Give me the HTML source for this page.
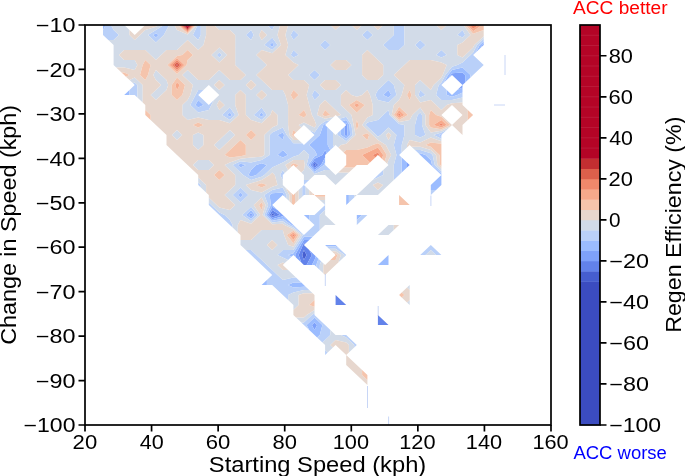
<!DOCTYPE html>
<html><head><meta charset="utf-8"><style>
html,body{margin:0;padding:0;background:#fff;width:685px;height:476px;overflow:hidden}
svg{display:block;font-family:"Liberation Sans",sans-serif;will-change:transform}
</style></head><body>
<svg width="685" height="476" viewBox="0 0 685 476">
<rect width="685" height="476" fill="#fff"/>
<defs><clipPath id="ax"><rect x="85" y="25" width="466" height="400"/></clipPath></defs>
<g clip-path="url(#ax)" fill-rule="evenodd"><path fill="#465ecf" d="M314.5 163.8L315.8 165.0L314.5 166.0L313.6 165.0ZM272.2 213.3L274.8 215.0L272.2 215.8L271.3 215.0ZM303.9 250.0L306.6 255.0L303.9 260.0L302.2 255.0Z"/><path fill="#6282ea" d="M314.5 161.2L318.5 165.0L314.5 168.0L311.9 165.0ZM313.6 165.0L314.5 166.0L315.8 165.0L314.5 163.8ZM272.2 210.0L280.1 215.0L272.2 217.5L269.6 215.0ZM271.3 215.0L272.2 215.8L274.8 215.0L272.2 213.3ZM303.9 243.3L305.7 243.3L303.9 245.0L309.2 250.0L311.9 255.0L306.6 265.0L303.9 265.0L301.3 262.5L298.6 255.0L302.9 245.0ZM302.2 255.0L303.9 260.0L306.6 255.0L303.9 250.0ZM335.6 295.0L346.2 305.0L335.6 305.0ZM377.9 315.0L388.5 325.0L377.9 325.0Z"/><path fill="#7ea1fa" d="M483.7 43.8L483.7 45.0L481.0 47.5L482.4 45.0ZM452.0 73.3L462.5 72.5L465.2 75.0L465.2 82.5L462.5 85.0L452.0 75.0L449.3 77.5L450.6 75.0ZM462.5 85.0L462.5 87.5L457.3 90.0ZM346.2 123.3L347.3 125.0L347.5 135.0L346.2 136.2L344.5 135.0L344.5 126.7L346.2 125.0L344.9 123.8ZM325.1 150.0L326.8 153.3L325.1 155.0L325.1 157.5L321.1 165.0L314.5 170.0L310.1 165.0L314.5 158.8L322.4 155.0ZM311.9 165.0L314.5 168.0L318.5 165.0L314.5 161.2ZM407.0 162.5L409.7 165.0L407.0 167.5L407.0 165.0ZM251.1 213.3L252.4 215.0L251.1 216.2L249.3 215.0ZM272.2 206.7L277.5 210.0L282.8 215.0L288.1 220.0L282.8 216.2L272.2 219.2L267.8 215.0ZM269.6 215.0L272.2 217.5L280.1 215.0L272.2 210.0ZM303.9 240.0L309.2 240.0L305.7 243.3L303.9 243.3L302.9 245.0L298.6 255.0L301.3 262.5L296.0 257.5L295.1 255.0L300.8 245.0ZM309.2 250.0L314.5 255.0L315.8 256.2L314.5 260.0L311.9 265.0L306.6 265.0L311.9 255.0ZM314.5 322.5L317.1 325.0L314.5 330.0L311.9 325.0Z"/><path fill="#9bbcff" d="M103.0 30.0L103.0 25.0L105.7 25.0ZM155.9 33.3L158.5 35.0L155.9 37.5L153.2 35.0ZM272.2 42.5L274.0 45.0L272.2 46.7L269.6 45.0ZM483.7 41.2L483.7 43.8L482.4 45.0L481.0 47.5L475.8 52.5L479.7 45.0ZM452.0 70.0L462.5 67.5L470.5 75.0L470.5 77.5L465.2 82.5L465.2 75.0L462.5 72.5L452.0 73.3L450.6 75.0L449.3 77.5L444.0 82.5L448.0 75.0ZM129.5 95.0L124.2 95.0L129.5 90.0ZM388.5 90.0L391.2 95.0L388.5 97.5L383.2 95.0ZM446.7 90.0L452.0 95.0L457.3 90.0L462.5 87.5L462.5 92.5L457.3 95.0L452.0 96.7L446.7 95.0ZM198.2 100.0L203.5 105.0L198.2 107.5L195.5 105.0ZM229.9 112.5L231.7 115.0L229.9 116.7L227.3 115.0ZM261.6 112.5L263.4 115.0L261.6 116.7L259.0 115.0ZM325.1 123.8L326.8 123.3L325.1 125.0L327.7 127.5L327.7 135.0L327.7 145.0L330.4 150.0L326.8 153.3L325.1 150.0L322.4 155.0L314.5 158.8L310.1 165.0L314.5 170.0L321.1 165.0L325.1 157.5L325.1 162.5L323.8 165.0L314.5 172.0L308.3 165.0L314.5 156.2L317.1 155.0L314.5 150.0L309.2 145.0L314.5 140.0L319.8 135.0L323.3 125.0ZM346.2 120.0L349.4 125.0L350.2 135.0L346.2 138.8L340.9 135.0L340.9 130.0L344.5 126.7L344.5 135.0L346.2 136.2L347.5 135.0L347.3 125.0L346.2 123.3L344.9 123.8L342.3 121.2ZM282.8 132.5L284.1 135.0L282.8 140.0L277.5 135.0ZM441.4 134.2L443.2 133.3L441.4 135.0L441.4 136.2L438.7 135.0ZM282.8 150.0L288.1 155.0L282.8 157.5L277.5 155.0ZM420.2 153.3L425.5 155.0L430.8 160.0L432.1 165.0L441.4 173.8L441.4 175.0L430.8 165.0L420.2 155.0L418.5 153.3ZM240.5 163.8L245.8 165.0L240.5 167.5L237.8 165.0ZM261.6 163.3L266.9 165.0L261.6 170.0L256.3 175.0L251.1 176.7L248.4 175.0L251.1 170.0L256.3 165.0ZM401.7 157.5L407.0 162.5L407.0 165.0L407.0 167.5L401.7 172.5L401.7 165.0ZM441.4 175.0L441.4 185.0L436.1 190.0L430.8 190.0L430.8 185.0ZM240.5 192.5L243.1 195.0L240.5 197.5L237.8 195.0ZM272.2 193.3L282.8 192.5L284.1 195.0L284.1 196.2L282.8 195.0L272.2 205.0L277.5 210.0L272.2 206.7L267.8 215.0L272.2 219.2L282.8 216.2L288.1 220.0L293.4 225.0L298.6 230.0L293.4 225.8L291.6 225.0L282.8 218.8L272.2 220.8L266.0 215.0L270.9 205.0L269.6 195.0ZM348.9 202.5L346.2 205.0L346.2 195.0L348.9 195.0ZM251.1 210.0L255.0 215.0L251.1 218.8L245.8 215.0ZM249.3 215.0L251.1 216.2L252.4 215.0L251.1 213.3ZM309.2 220.0L303.9 215.0L309.2 215.0ZM356.8 220.0L356.8 215.0L362.1 215.0ZM303.9 236.7L312.7 236.7L309.2 240.0L303.9 240.0L300.8 245.0L295.1 255.0L296.0 257.5L293.4 255.0L291.6 256.7L288.1 255.0L293.4 253.3L298.6 245.0ZM335.6 245.0L340.9 250.0L335.6 246.2L326.4 246.2L325.1 245.0ZM314.5 260.0L315.8 256.2L318.5 258.8L316.3 265.0L316.3 266.7L314.5 265.0L311.9 265.0ZM388.5 255.0L388.5 265.0L377.9 265.0ZM266.9 285.0L261.6 285.0L266.9 280.0ZM293.4 282.5L301.3 282.5L303.9 285.0L305.7 286.7L303.9 286.7L293.4 287.5L288.1 285.0ZM314.5 317.5L322.4 325.0L319.8 335.0L317.1 337.5L314.5 335.0L309.2 330.0L306.6 325.0ZM311.9 325.0L314.5 330.0L317.1 325.0L314.5 322.5Z"/><path fill="#b9d0f9" d="M113.6 30.0L118.9 35.0L113.6 40.0L108.3 40.0L103.0 35.0L103.0 30.0L105.7 25.0L111.0 25.0ZM155.9 30.0L163.8 25.0L166.5 25.0L169.1 25.0L166.5 30.0L163.8 35.0L155.9 42.5L148.0 35.0ZM153.2 35.0L155.9 37.5L158.5 35.0L155.9 33.3ZM198.2 25.0L200.8 25.0L200.8 35.0L198.2 40.0L192.9 35.0L197.7 25.0ZM251.1 30.0L253.7 35.0L251.1 40.0L245.8 35.0ZM272.2 25.0L274.8 25.0L272.2 30.0L266.9 25.0ZM293.4 30.0L298.6 35.0L293.4 40.0L290.7 35.0ZM367.4 30.0L372.7 35.0L367.4 40.0L362.1 35.0ZM399.1 25.0L404.4 25.0L404.4 35.0L404.4 45.0L399.1 50.0L388.5 50.0L383.2 45.0L388.5 40.0L393.8 35.0L393.8 25.0ZM462.5 30.0L465.2 35.0L462.5 37.5L457.3 35.0ZM272.2 37.5L277.5 45.0L272.2 50.0L264.3 45.0ZM269.6 45.0L272.2 46.7L274.0 45.0L272.2 42.5ZM325.1 40.0L330.4 45.0L325.1 50.0L319.8 45.0ZM420.2 40.0L425.5 45.0L420.2 50.0L415.0 45.0ZM483.7 38.8L483.7 41.2L479.7 45.0L475.8 52.5L473.1 55.0L483.7 65.0L473.1 75.0L470.5 77.5L470.5 75.0L462.5 67.5L452.0 70.0L448.0 75.0L444.0 82.5L441.4 85.0L446.7 90.0L446.7 95.0L452.0 96.7L457.3 95.0L462.5 92.5L462.5 95.0L462.5 97.5L452.0 100.0L441.4 100.0L436.1 95.0L438.7 85.0L441.4 82.5L445.4 75.0L452.0 66.7L457.3 65.0L462.5 62.5L470.5 55.0L473.1 52.5L477.1 45.0ZM219.3 52.5L222.0 55.0L219.3 57.5L216.7 55.0ZM293.4 50.0L298.6 55.0L293.4 57.5L290.7 55.0ZM441.4 50.0L446.7 55.0L441.4 57.5L436.1 55.0ZM314.5 70.0L319.8 75.0L314.5 80.0L309.2 75.0ZM134.7 82.5L137.4 85.0L137.4 95.0L137.4 97.5L134.7 95.0L129.5 95.0L129.5 90.0L134.7 85.0L133.0 83.3ZM388.5 80.0L393.8 85.0L396.5 95.0L388.5 102.5L377.9 100.0L375.3 95.0L377.9 90.0L383.2 85.0ZM383.2 95.0L388.5 97.5L391.2 95.0L388.5 90.0ZM198.2 90.0L203.5 90.0L198.2 95.0L208.8 105.0L214.0 100.0L211.4 105.0L208.8 110.0L198.2 112.5L190.3 105.0L195.5 95.0ZM195.5 105.0L198.2 107.5L203.5 105.0L198.2 100.0ZM314.5 90.0L319.8 95.0L314.5 100.0L311.9 95.0ZM420.2 90.0L425.5 95.0L420.2 97.5L418.5 95.0ZM229.9 107.5L235.2 115.0L229.9 120.0L222.0 115.0ZM227.3 115.0L229.9 116.7L231.7 115.0L229.9 112.5ZM261.6 107.5L266.9 115.0L261.6 120.0L253.7 115.0ZM259.0 115.0L261.6 116.7L263.4 115.0L261.6 112.5ZM388.5 110.0L389.6 115.0L399.1 124.0L404.4 125.0L404.4 135.0L401.7 145.0L401.7 152.5L399.1 155.0L401.7 157.5L401.7 165.0L401.7 172.5L399.1 175.0L393.8 180.0L393.8 175.0L393.8 165.0L396.5 155.0L393.8 145.0L396.5 135.0L388.5 127.5L380.6 135.0L377.9 136.7L376.2 135.0L367.4 126.7L365.6 125.0L367.4 122.5L377.9 120.0L383.2 115.0ZM420.2 112.5L422.0 115.0L422.0 125.0L425.5 135.0L420.2 137.5L415.0 135.0L415.0 125.0L417.6 115.0ZM325.1 121.2L330.4 120.0L326.8 123.3L325.1 123.8L323.3 125.0L319.8 135.0L314.5 140.0L309.2 145.0L314.5 150.0L317.1 155.0L314.5 156.2L308.3 165.0L314.5 172.0L323.8 165.0L325.1 162.5L325.1 165.0L330.4 170.0L325.1 170.0L314.5 174.0L306.6 165.0L309.2 155.0L303.9 150.0L298.6 155.0L293.4 156.7L282.8 162.5L277.5 165.0L272.2 167.5L264.3 175.0L261.6 176.7L251.1 180.0L243.1 175.0L240.5 172.5L232.6 165.0L240.5 161.2L251.1 162.5L261.6 160.0L269.6 155.0L269.6 145.0L269.6 135.0L272.2 132.5L282.8 127.5L286.7 135.0L293.4 143.3L302.2 143.3L303.9 145.0L314.5 135.0L309.2 130.0L314.5 132.5L319.8 125.0ZM277.5 135.0L282.8 140.0L284.1 135.0L282.8 132.5ZM277.5 155.0L282.8 157.5L288.1 155.0L282.8 150.0ZM237.8 165.0L240.5 167.5L245.8 165.0L240.5 163.8ZM256.3 165.0L251.1 170.0L248.4 175.0L251.1 176.7L256.3 175.0L261.6 170.0L266.9 165.0L261.6 163.3ZM346.2 116.7L351.5 125.0L352.8 135.0L346.2 141.2L337.4 135.0L337.4 133.3L340.9 130.0L340.9 135.0L346.2 138.8L350.2 135.0L349.4 125.0L346.2 120.0L342.3 121.2L339.6 118.8ZM327.7 127.5L333.0 132.5L333.0 135.0L333.0 145.0L333.9 146.7L330.4 150.0L327.7 145.0L327.7 135.0ZM441.4 132.5L446.7 130.0L443.2 133.3L441.4 134.2L438.7 135.0L441.4 136.2L441.4 138.8L433.5 135.0ZM420.2 150.0L430.8 153.3L432.6 155.0L434.8 165.0L441.4 171.2L441.4 173.8L432.1 165.0L430.8 160.0L425.5 155.0L420.2 153.3L418.5 153.3L415.0 150.0ZM282.8 170.0L284.5 173.3L282.8 175.0L282.8 180.0L280.1 175.0ZM383.2 175.0L377.9 177.5L372.7 180.0L377.9 175.0L383.2 170.0ZM200.8 185.0L200.8 187.5L198.2 185.0L198.2 182.5ZM309.2 180.0L303.9 185.0L303.9 180.0ZM240.5 187.5L248.4 195.0L240.5 202.5L232.6 195.0ZM237.8 195.0L240.5 197.5L243.1 195.0L240.5 192.5ZM272.2 190.0L282.8 187.5L286.7 195.0L286.7 198.8L284.1 196.2L284.1 195.0L282.8 192.5L272.2 193.3L269.6 195.0L270.9 205.0L266.0 215.0L272.2 220.8L282.8 218.8L291.6 225.0L293.4 225.8L298.6 230.0L303.9 235.0L314.5 225.0L309.2 220.0L309.2 215.0L314.5 215.0L325.1 205.0L325.1 210.0L319.8 215.0L319.8 225.0L319.8 230.0L314.5 235.0L312.7 236.7L303.9 236.7L298.6 245.0L293.4 253.3L288.1 255.0L291.6 256.7L288.1 260.0L282.8 257.5L277.5 255.0L282.8 250.0L293.4 250.0L296.5 245.0L302.9 235.0L293.4 227.5L288.1 225.0L282.8 221.2L272.2 222.5L264.3 215.0L268.2 205.0L264.3 195.0ZM303.9 185.0L305.7 186.7L305.7 195.0L303.9 195.0L302.2 196.7L302.2 195.0L302.2 186.7ZM436.1 190.0L430.8 195.0L430.8 190.0ZM211.4 205.0L219.3 212.5L224.6 215.0L229.9 220.0L232.6 225.0L232.6 227.5L229.9 225.0L219.3 215.0L208.8 205.0L208.8 202.5ZM325.1 203.3L325.1 205.0L323.3 203.3ZM354.2 197.5L348.9 202.5L348.9 195.0L354.2 195.0ZM251.1 206.7L257.7 215.0L251.1 221.2L242.2 215.0ZM245.8 215.0L251.1 218.8L255.0 215.0L251.1 210.0ZM367.4 215.0L356.8 225.0L356.8 220.0L362.1 215.0ZM251.1 250.0L256.3 255.0L261.6 260.0L266.9 265.0L272.2 270.0L277.5 275.0L282.8 280.0L293.4 277.5L296.0 277.5L301.3 282.5L293.4 282.5L288.1 285.0L293.4 287.5L303.9 286.7L305.7 286.7L309.2 290.0L303.9 290.0L293.4 292.5L288.1 295.0L288.1 300.0L282.8 295.0L272.2 285.0L266.9 285.0L266.9 280.0L272.2 275.0L261.6 265.0L251.1 255.0L245.8 250.0ZM335.6 246.2L340.9 250.0L346.2 255.0L343.6 257.5L344.5 255.0L335.6 248.8L329.0 248.8L326.4 246.2ZM430.8 245.0L441.4 255.0L436.1 255.0L430.8 250.0L425.5 255.0L420.2 255.0ZM318.5 258.8L321.1 261.2L319.8 265.0L319.8 270.0L316.3 266.7L316.3 265.0ZM314.5 313.3L314.5 315.0L325.1 325.0L330.4 330.0L330.4 335.0L325.1 340.0L322.4 342.5L317.1 337.5L319.8 335.0L322.4 325.0L314.5 317.5L306.6 325.0L309.2 330.0L303.9 325.0L301.3 322.5L303.9 322.5L311.9 315.0ZM346.2 335.0L356.8 345.0L354.2 347.5L354.2 345.0L346.2 337.5L340.9 335.0ZM327.7 352.5L325.1 355.0L325.1 350.0Z"/><path fill="#d2dbe8" d="M113.6 25.0L124.2 25.0L129.5 30.0L129.5 35.0L134.7 40.0L140.0 35.0L145.3 30.0L155.9 26.7L158.5 25.0L163.8 25.0L155.9 30.0L148.0 35.0L155.9 42.5L163.8 35.0L166.5 30.0L169.1 25.0L174.4 25.0L177.0 30.0L187.6 34.5L196.7 25.0L197.7 25.0L192.9 35.0L198.2 40.0L200.8 35.0L200.8 25.0L206.1 25.0L206.1 35.0L203.5 45.0L198.2 50.0L192.9 45.0L187.6 40.0L182.3 45.0L177.0 50.0L166.5 50.0L161.2 55.0L155.9 60.0L150.6 55.0L145.3 50.0L134.7 50.0L124.2 50.0L118.9 55.0L124.2 60.0L134.7 60.0L137.4 65.0L134.7 70.0L124.2 67.5L116.2 67.5L113.6 65.0L113.6 55.0L113.6 45.0L108.3 40.0L113.6 40.0L118.9 35.0L113.6 30.0L111.0 25.0ZM219.3 25.0L229.9 25.0L240.5 25.0L251.1 25.0L261.6 25.0L266.9 25.0L272.2 30.0L274.8 25.0L280.1 25.0L277.5 35.0L281.0 45.0L272.2 53.3L261.6 50.0L256.3 55.0L261.6 60.0L266.9 65.0L261.6 70.0L256.3 75.0L261.6 80.0L266.9 85.0L272.2 90.0L282.8 90.0L285.4 95.0L288.1 105.0L288.1 115.0L288.1 125.0L289.4 135.0L293.4 140.0L298.6 140.0L302.2 143.3L293.4 143.3L286.7 135.0L282.8 127.5L272.2 132.5L269.6 135.0L269.6 145.0L269.6 155.0L261.6 160.0L251.1 162.5L240.5 161.2L232.6 165.0L240.5 172.5L243.1 175.0L251.1 180.0L261.6 176.7L264.3 175.0L272.2 167.5L277.5 165.0L282.8 162.5L293.4 156.7L298.6 155.0L303.9 150.0L309.2 155.0L306.6 165.0L314.5 174.0L325.1 170.0L330.4 170.0L335.6 175.0L338.3 172.5L346.2 172.5L348.9 172.5L346.2 175.0L335.6 185.0L325.1 175.0L314.5 175.0L309.2 180.0L303.9 180.0L303.9 175.0L301.3 172.5L303.9 170.0L304.8 165.0L303.9 160.0L293.4 160.0L285.4 165.0L288.1 170.0L284.5 173.3L282.8 170.0L280.1 175.0L282.8 180.0L282.8 185.0L285.4 187.5L289.4 195.0L289.4 201.2L286.7 198.8L286.7 195.0L282.8 187.5L272.2 190.0L264.3 195.0L268.2 205.0L264.3 215.0L272.2 222.5L282.8 221.2L288.1 225.0L293.4 227.5L302.9 235.0L296.5 245.0L293.4 250.0L282.8 250.0L277.5 255.0L282.8 257.5L288.1 260.0L284.5 263.3L282.8 262.5L277.5 265.0L282.8 270.0L288.1 270.0L293.4 275.0L296.0 277.5L293.4 277.5L282.8 280.0L277.5 275.0L272.2 270.0L266.9 265.0L261.6 260.0L256.3 255.0L251.1 250.0L245.8 250.0L240.5 245.0L240.5 240.0L251.1 240.0L256.3 235.0L261.6 230.0L272.2 230.0L282.8 230.0L284.1 235.0L288.1 245.0L293.4 246.7L294.4 245.0L300.8 235.0L293.4 229.2L284.5 225.0L282.8 223.8L272.2 224.2L262.5 215.0L265.6 205.0L261.6 197.5L253.7 205.0L260.3 215.0L251.1 223.8L240.5 220.0L237.8 225.0L237.8 232.5L232.6 227.5L232.6 225.0L229.9 220.0L224.6 215.0L219.3 212.5L211.4 205.0L208.8 202.5L208.8 197.5L216.7 205.0L219.3 207.5L229.9 210.0L235.2 205.0L229.9 200.0L224.6 195.0L229.9 190.0L235.2 185.0L235.2 175.0L229.9 170.0L224.6 165.0L229.9 162.5L240.5 158.8L251.1 157.5L261.6 156.7L264.3 155.0L264.3 145.0L264.3 135.0L272.2 127.5L277.5 125.0L277.5 115.0L272.2 110.0L270.4 115.0L261.6 123.3L251.1 120.0L245.8 115.0L245.8 105.0L245.8 95.0L240.5 90.0L235.2 95.0L235.2 105.0L238.7 115.0L229.9 123.3L219.3 120.0L208.8 120.0L198.2 117.5L187.6 120.0L182.3 115.0L182.3 105.0L187.6 100.0L190.3 95.0L192.9 85.0L187.6 80.0L182.3 75.0L187.6 70.0L192.9 75.0L198.2 80.0L208.8 80.0L214.0 75.0L219.3 70.0L224.6 75.0L229.9 80.0L240.5 80.0L245.8 75.0L240.5 70.0L235.2 65.0L235.2 55.0L235.2 45.0L235.2 35.0L229.9 30.0L219.3 30.0L214.0 25.0ZM245.8 35.0L251.1 40.0L253.7 35.0L251.1 30.0ZM259.0 35.0L261.6 40.0L266.9 35.0L261.6 30.0ZM264.3 45.0L272.2 50.0L277.5 45.0L272.2 37.5ZM214.0 85.0L219.3 90.0L224.6 85.0L219.3 80.0ZM245.8 85.0L251.1 90.0L256.3 85.0L251.1 80.0ZM195.5 95.0L190.3 105.0L198.2 112.5L208.8 110.0L211.4 105.0L214.0 100.0L219.3 95.0L208.8 85.0L203.5 90.0L198.2 90.0ZM256.3 95.0L261.6 100.0L266.9 95.0L261.6 90.0ZM216.7 105.0L219.3 110.0L224.6 105.0L219.3 100.0ZM222.0 115.0L229.9 120.0L235.2 115.0L229.9 107.5ZM253.7 115.0L261.6 120.0L266.9 115.0L261.6 107.5ZM269.6 175.0L261.6 180.0L251.1 183.3L245.8 185.0L251.1 190.0L261.6 192.5L272.2 186.7L277.5 185.0L274.8 175.0L272.2 172.5ZM232.6 195.0L240.5 202.5L248.4 195.0L240.5 187.5ZM242.2 215.0L251.1 221.2L257.7 215.0L251.1 206.7ZM266.9 245.0L272.2 250.0L277.5 245.0L272.2 240.0ZM293.4 25.0L303.9 25.0L314.5 25.0L325.1 25.0L330.4 25.0L335.6 30.0L340.9 25.0L346.2 25.0L351.5 25.0L356.8 30.0L362.1 25.0L367.4 25.0L372.7 25.0L377.9 30.0L383.2 25.0L388.5 25.0L393.8 25.0L393.8 35.0L388.5 40.0L383.2 45.0L388.5 50.0L399.1 50.0L404.4 45.0L404.4 35.0L404.4 25.0L409.7 25.0L420.2 25.0L430.8 25.0L436.1 25.0L441.4 30.0L446.7 25.0L452.0 25.0L462.5 25.0L463.6 25.0L470.5 35.0L462.5 42.5L457.3 45.0L457.3 55.0L462.5 57.5L465.2 55.0L473.1 47.5L474.4 45.0L483.7 36.2L483.7 38.8L477.1 45.0L473.1 52.5L470.5 55.0L462.5 62.5L457.3 65.0L452.0 66.7L445.4 75.0L441.4 82.5L438.7 85.0L436.1 95.0L441.4 100.0L452.0 100.0L462.5 97.5L462.5 102.5L452.0 103.3L446.7 105.0L441.4 110.0L436.1 105.0L430.8 100.0L420.2 102.5L415.0 95.0L415.0 85.0L420.2 80.0L425.5 85.0L430.8 90.0L433.5 85.0L441.4 77.5L442.7 75.0L446.7 65.0L441.4 62.5L430.8 60.0L420.2 60.0L409.7 60.0L404.4 65.0L399.1 70.0L393.8 75.0L399.1 80.0L404.4 85.0L401.7 95.0L399.1 100.0L393.8 105.0L391.7 115.0L399.1 122.0L409.7 120.0L412.3 115.0L420.2 107.5L425.5 115.0L425.5 125.0L430.8 132.5L441.4 130.8L450.2 126.7L446.7 130.0L441.4 132.5L433.5 135.0L441.4 138.8L441.4 141.2L430.8 137.5L420.2 142.5L409.7 140.0L407.0 145.0L407.0 147.5L401.7 152.5L401.7 145.0L404.4 135.0L404.4 125.0L399.1 124.0L389.6 115.0L388.5 110.0L383.2 115.0L377.9 120.0L367.4 122.5L365.6 125.0L367.4 126.7L376.2 135.0L377.9 136.7L380.6 135.0L388.5 127.5L396.5 135.0L393.8 145.0L396.5 155.0L393.8 165.0L393.8 175.0L393.8 180.0L388.5 185.0L377.9 195.0L367.4 195.0L356.8 195.0L367.4 185.0L372.7 180.0L377.9 177.5L383.2 175.0L383.2 170.0L388.5 165.0L387.2 163.8L388.5 160.0L391.2 155.0L388.5 150.0L385.9 145.0L377.9 140.0L372.7 135.0L367.4 130.0L362.1 125.0L367.4 117.5L372.7 115.0L372.7 105.0L370.0 95.0L367.4 90.0L362.1 95.0L356.8 96.7L351.5 95.0L346.2 90.0L340.9 95.0L340.9 105.0L346.2 110.0L351.5 115.0L353.6 125.0L355.5 135.0L346.2 143.8L340.9 145.0L338.3 147.5L335.6 145.0L333.9 146.7L333.0 145.0L333.0 135.0L333.0 132.5L335.6 135.0L337.4 133.3L337.4 135.0L346.2 141.2L352.8 135.0L351.5 125.0L346.2 116.7L339.6 118.8L337.0 116.2L340.9 115.0L335.6 110.0L330.4 105.0L325.1 100.0L319.8 105.0L317.1 115.0L325.1 118.8L333.9 116.7L330.4 120.0L325.1 121.2L319.8 125.0L314.5 132.5L309.2 130.0L303.9 125.0L301.3 127.5L298.6 125.0L303.9 122.5L309.2 125.0L314.5 127.5L316.3 125.0L314.5 120.0L311.9 115.0L309.2 105.0L306.6 95.0L309.2 85.0L303.9 80.0L293.4 80.0L288.1 75.0L293.4 70.0L298.6 65.0L293.4 62.5L285.4 55.0L288.1 45.0L285.4 35.0L288.1 25.0ZM290.7 35.0L293.4 40.0L298.6 35.0L293.4 30.0ZM362.1 35.0L367.4 40.0L372.7 35.0L367.4 30.0ZM457.3 35.0L462.5 37.5L465.2 35.0L462.5 30.0ZM319.8 45.0L325.1 50.0L330.4 45.0L325.1 40.0ZM415.0 45.0L420.2 50.0L425.5 45.0L420.2 40.0ZM290.7 55.0L293.4 57.5L298.6 55.0L293.4 50.0ZM362.1 55.0L362.1 65.0L362.1 75.0L367.4 80.0L377.9 80.0L383.2 75.0L383.2 65.0L377.9 60.0L372.7 55.0L367.4 50.0ZM436.1 55.0L441.4 57.5L446.7 55.0L441.4 50.0ZM330.4 65.0L335.6 70.0L346.2 70.0L351.5 65.0L346.2 60.0L335.6 60.0ZM309.2 75.0L314.5 80.0L319.8 75.0L314.5 70.0ZM319.8 85.0L325.1 90.0L335.6 90.0L340.9 85.0L335.6 80.0L325.1 80.0ZM383.2 85.0L377.9 90.0L375.3 95.0L377.9 100.0L388.5 102.5L396.5 95.0L393.8 85.0L388.5 80.0ZM311.9 95.0L314.5 100.0L319.8 95.0L314.5 90.0ZM418.5 95.0L420.2 97.5L425.5 95.0L420.2 90.0ZM417.6 115.0L415.0 125.0L415.0 135.0L420.2 137.5L425.5 135.0L422.0 125.0L422.0 115.0L420.2 112.5ZM385.9 135.0L388.5 140.0L391.2 135.0L388.5 132.5ZM372.7 185.0L377.9 190.0L383.2 185.0L377.9 182.5ZM219.3 47.5L227.3 55.0L219.3 62.5L211.4 55.0ZM216.7 55.0L219.3 57.5L222.0 55.0L219.3 52.5ZM155.9 70.0L161.2 75.0L166.5 80.0L168.2 85.0L166.5 90.0L161.2 95.0L155.9 100.0L150.6 95.0L155.9 90.0L161.2 85.0L155.9 80.0L153.2 75.0ZM134.7 77.5L142.7 85.0L142.7 95.0L142.7 102.5L137.4 97.5L137.4 95.0L137.4 85.0L134.7 82.5L133.0 83.3L129.5 80.0ZM177.0 130.0L182.3 135.0L177.0 140.0L171.8 135.0ZM198.2 132.5L203.5 135.0L203.5 145.0L198.2 150.0L192.9 145.0L192.9 135.0ZM229.9 130.0L235.2 135.0L229.9 140.0L224.6 145.0L219.3 150.0L214.0 145.0L219.3 140.0L224.6 135.0ZM420.2 146.7L430.8 150.0L436.1 155.0L437.4 165.0L441.4 168.8L441.4 171.2L434.8 165.0L432.6 155.0L430.8 153.3L420.2 150.0L415.0 150.0L411.4 146.7ZM198.2 160.0L208.8 160.0L214.0 165.0L208.8 170.0L198.2 170.0L192.9 165.0ZM206.1 185.0L206.1 192.5L200.8 187.5L200.8 185.0L198.2 182.5L198.2 177.5ZM302.2 195.0L302.2 196.7L298.6 200.0L298.6 195.0L298.6 190.0L302.2 186.7ZM305.7 186.7L309.2 190.0L309.2 195.0L305.7 195.0ZM325.1 200.0L325.1 203.3L323.3 203.3L319.8 200.0ZM356.8 195.0L354.2 197.5L354.2 195.0ZM325.1 210.0L325.1 215.0L335.6 225.0L325.1 225.0L319.8 230.0L319.8 225.0L319.8 215.0ZM388.5 225.0L393.8 225.0L393.8 230.0L388.5 235.0L377.9 235.0ZM335.6 248.8L344.5 255.0L343.6 257.5L338.3 262.5L340.9 255.0L335.6 251.2L331.7 251.2L329.0 248.8ZM430.8 250.0L436.1 255.0L430.8 255.0L425.5 255.0ZM321.1 261.2L323.8 263.8L323.3 265.0L323.3 273.3L319.8 270.0L319.8 265.0ZM293.4 292.5L303.9 290.0L309.2 290.0L312.7 293.3L303.9 293.3L298.6 295.0L298.6 305.0L293.4 310.0L293.4 305.0L288.1 300.0L288.1 295.0ZM409.7 285.0L409.7 290.0L407.0 287.5ZM409.7 300.0L409.7 305.0L407.0 302.5ZM314.5 310.0L314.5 313.3L311.9 315.0L303.9 322.5L301.3 322.5L296.0 317.5L303.9 317.5L306.6 315.0ZM330.4 330.0L335.6 335.0L340.9 335.0L346.2 337.5L354.2 345.0L354.2 347.5L348.9 352.5L348.9 345.0L346.2 342.5L335.6 340.0L330.4 345.0L333.0 347.5L327.7 352.5L325.1 350.0L325.1 345.0L322.4 342.5L325.1 340.0L330.4 335.0Z"/><path fill="#e7d7ce" d="M129.5 30.0L134.7 35.0L145.3 25.0L155.9 25.0L158.5 25.0L155.9 26.7L145.3 30.0L140.0 35.0L134.7 40.0L129.5 35.0ZM177.0 25.0L177.7 25.0L187.6 33.4L195.7 25.0L196.7 25.0L187.6 34.5L177.0 30.0L174.4 25.0ZM208.8 25.0L214.0 25.0L219.3 30.0L229.9 30.0L235.2 35.0L235.2 45.0L235.2 55.0L235.2 65.0L240.5 70.0L245.8 75.0L240.5 80.0L229.9 80.0L224.6 75.0L219.3 70.0L214.0 75.0L208.8 80.0L198.2 80.0L192.9 75.0L187.6 70.0L182.3 75.0L187.6 80.0L192.9 85.0L190.3 95.0L187.6 100.0L182.3 105.0L182.3 115.0L187.6 120.0L198.2 117.5L208.8 120.0L219.3 120.0L229.9 123.3L238.7 115.0L235.2 105.0L235.2 95.0L240.5 90.0L245.8 95.0L245.8 105.0L245.8 115.0L251.1 120.0L261.6 123.3L270.4 115.0L272.2 110.0L277.5 115.0L277.5 125.0L272.2 127.5L264.3 135.0L264.3 145.0L264.3 155.0L261.6 156.7L251.1 157.5L240.5 158.8L229.9 162.5L224.6 165.0L229.9 170.0L235.2 175.0L235.2 185.0L229.9 190.0L224.6 195.0L229.9 200.0L235.2 205.0L229.9 210.0L219.3 207.5L216.7 205.0L208.8 197.5L208.8 195.0L206.1 192.5L206.1 185.0L198.2 177.5L198.2 175.0L187.6 165.0L177.0 155.0L166.5 145.0L166.5 135.0L155.9 125.0L150.6 120.0L150.6 115.0L145.3 110.0L145.3 105.0L142.7 102.5L142.7 95.0L142.7 85.0L134.7 77.5L129.5 80.0L125.9 76.7L129.5 75.0L124.2 72.5L121.5 72.5L116.2 67.5L124.2 67.5L134.7 70.0L137.4 65.0L134.7 60.0L124.2 60.0L118.9 55.0L124.2 50.0L134.7 50.0L145.3 50.0L150.6 55.0L155.9 60.0L161.2 55.0L166.5 50.0L177.0 50.0L182.3 45.0L187.6 40.0L192.9 45.0L198.2 50.0L203.5 45.0L206.1 35.0L206.1 25.0ZM182.3 55.0L177.0 56.0L167.5 65.0L177.0 74.0L186.6 65.0L187.6 60.0L192.9 55.0L187.6 50.0ZM211.4 55.0L219.3 62.5L227.3 55.0L219.3 47.5ZM142.7 65.0L140.0 75.0L145.3 80.0L148.0 75.0L150.6 65.0L145.3 60.0ZM153.2 75.0L155.9 80.0L161.2 85.0L155.9 90.0L150.6 95.0L155.9 100.0L161.2 95.0L166.5 90.0L168.2 85.0L166.5 80.0L161.2 75.0L155.9 70.0ZM171.8 85.0L171.8 95.0L177.0 100.0L182.3 95.0L185.0 85.0L177.0 77.5ZM192.9 125.0L198.2 127.5L203.5 125.0L198.2 122.5ZM171.8 135.0L177.0 140.0L182.3 135.0L177.0 130.0ZM192.9 135.0L192.9 145.0L198.2 150.0L203.5 145.0L203.5 135.0L198.2 132.5ZM224.6 135.0L219.3 140.0L214.0 145.0L219.3 150.0L224.6 145.0L229.9 140.0L235.2 135.0L229.9 130.0ZM245.8 135.0L251.1 140.0L256.3 135.0L251.1 130.0ZM235.2 145.0L229.9 150.0L224.6 155.0L229.9 157.5L240.5 156.2L245.8 155.0L245.8 145.0L240.5 140.0ZM192.9 165.0L198.2 170.0L208.8 170.0L214.0 165.0L208.8 160.0L198.2 160.0ZM214.0 175.0L219.3 180.0L224.6 175.0L219.3 170.0ZM261.6 30.0L266.9 35.0L261.6 40.0L259.0 35.0ZM282.8 25.0L288.1 25.0L285.4 35.0L288.1 45.0L285.4 55.0L293.4 62.5L298.6 65.0L293.4 70.0L288.1 75.0L293.4 80.0L303.9 80.0L309.2 85.0L306.6 95.0L309.2 105.0L311.9 115.0L314.5 120.0L316.3 125.0L314.5 127.5L309.2 125.0L303.9 122.5L298.6 125.0L301.3 127.5L296.0 132.5L293.4 130.0L292.0 135.0L293.4 136.7L295.1 136.7L298.6 140.0L293.4 140.0L289.4 135.0L288.1 125.0L288.1 115.0L288.1 105.0L285.4 95.0L282.8 90.0L272.2 90.0L266.9 85.0L261.6 80.0L256.3 75.0L261.6 70.0L266.9 65.0L261.6 60.0L256.3 55.0L261.6 50.0L272.2 53.3L281.0 45.0L277.5 35.0L280.1 25.0ZM290.7 95.0L293.4 100.0L298.6 95.0L293.4 90.0ZM298.6 115.0L303.9 117.5L306.6 115.0L303.9 110.0ZM335.6 25.0L340.9 25.0L335.6 30.0L330.4 25.0ZM356.8 25.0L362.1 25.0L356.8 30.0L351.5 25.0ZM377.9 25.0L383.2 25.0L377.9 30.0L372.7 25.0ZM441.4 25.0L446.7 25.0L441.4 30.0L436.1 25.0ZM473.1 33.8L483.7 30.0L483.7 35.0L483.7 36.2L474.4 45.0L473.1 47.5L465.2 55.0L462.5 57.5L457.3 55.0L457.3 45.0L462.5 42.5L470.5 35.0L463.6 25.0L465.7 25.0ZM367.4 50.0L372.7 55.0L377.9 60.0L383.2 65.0L383.2 75.0L377.9 80.0L367.4 80.0L362.1 75.0L362.1 65.0L362.1 55.0ZM335.6 60.0L346.2 60.0L351.5 65.0L346.2 70.0L335.6 70.0L330.4 65.0ZM409.7 60.0L420.2 60.0L430.8 60.0L441.4 62.5L446.7 65.0L442.7 75.0L441.4 77.5L433.5 85.0L430.8 90.0L425.5 85.0L420.2 80.0L415.0 85.0L415.0 95.0L420.2 102.5L430.8 100.0L436.1 105.0L441.4 110.0L446.7 105.0L452.0 103.3L462.5 102.5L462.5 105.0L467.8 110.0L467.8 115.0L467.8 120.0L462.5 125.0L462.5 135.0L452.0 125.0L462.5 115.0L452.0 105.0L441.4 115.0L452.0 125.0L450.2 126.7L441.4 130.8L430.8 132.5L425.5 125.0L425.5 115.0L420.2 107.5L412.3 115.0L409.7 120.0L399.1 122.0L391.7 115.0L393.8 105.0L399.1 100.0L401.7 95.0L404.4 85.0L399.1 80.0L393.8 75.0L399.1 70.0L404.4 65.0ZM407.0 95.0L409.7 100.0L411.4 95.0L409.7 90.0ZM393.8 115.0L399.1 120.0L407.9 115.0L399.1 106.7ZM429.1 115.0L429.1 125.0L430.8 127.5L441.4 129.2L450.2 125.0L441.4 116.7L436.1 115.0L430.8 110.0ZM219.3 80.0L224.6 85.0L219.3 90.0L214.0 85.0ZM251.1 80.0L256.3 85.0L251.1 90.0L245.8 85.0ZM325.1 80.0L335.6 80.0L340.9 85.0L335.6 90.0L325.1 90.0L319.8 85.0ZM261.6 90.0L266.9 95.0L261.6 100.0L256.3 95.0ZM346.2 90.0L351.5 95.0L356.8 96.7L362.1 95.0L367.4 90.0L370.0 95.0L372.7 105.0L372.7 115.0L367.4 117.5L362.1 125.0L367.4 130.0L372.7 135.0L377.9 140.0L385.9 145.0L388.5 150.0L391.2 155.0L388.5 160.0L387.2 163.8L384.6 161.2L386.8 155.0L380.6 145.0L377.9 143.3L372.7 145.0L367.4 147.5L356.8 150.0L346.2 150.0L343.6 152.5L338.3 147.5L340.9 145.0L346.2 143.8L355.5 135.0L353.6 125.0L351.5 115.0L346.2 110.0L340.9 105.0L340.9 95.0ZM348.9 105.0L356.8 112.5L364.7 105.0L356.8 100.0ZM355.7 125.0L356.8 130.0L358.6 125.0L356.8 120.0ZM362.1 135.0L367.4 140.0L369.1 135.0L367.4 133.3ZM219.3 100.0L224.6 105.0L219.3 110.0L216.7 105.0ZM325.1 100.0L330.4 105.0L335.6 110.0L340.9 115.0L337.0 116.2L335.6 115.0L333.9 116.7L325.1 118.8L317.1 115.0L319.8 105.0ZM322.4 115.0L325.1 116.2L330.4 115.0L325.1 110.0ZM388.5 132.5L391.2 135.0L388.5 140.0L385.9 135.0ZM409.7 140.0L420.2 142.5L430.8 137.5L441.4 141.2L441.4 143.8L430.8 142.5L425.5 145.0L430.8 146.7L439.6 155.0L440.1 165.0L441.4 166.2L441.4 168.8L437.4 165.0L436.1 155.0L430.8 150.0L420.2 146.7L411.4 146.7L409.7 145.0L407.0 147.5L407.0 145.0ZM293.4 160.0L303.9 160.0L304.8 165.0L303.9 170.0L301.3 172.5L296.0 167.5L298.6 165.0L293.4 163.3L290.7 165.0L291.6 166.7L288.1 170.0L285.4 165.0ZM272.2 172.5L274.8 175.0L277.5 185.0L272.2 186.7L261.6 192.5L251.1 190.0L245.8 185.0L251.1 183.3L261.6 180.0L269.6 175.0ZM256.3 185.0L261.6 187.5L266.9 185.0L261.6 183.3ZM346.2 167.5L354.2 167.5L348.9 172.5L346.2 172.5L338.3 172.5L343.6 167.5ZM377.9 182.5L383.2 185.0L377.9 190.0L372.7 185.0ZM285.4 187.5L290.7 192.5L292.0 195.0L292.0 203.8L289.4 201.2L289.4 195.0ZM298.6 195.0L298.6 200.0L295.1 203.3L295.1 195.0L295.1 193.3L298.6 190.0ZM309.2 190.0L312.7 193.3L312.7 195.0L309.2 195.0ZM261.6 197.5L265.6 205.0L262.5 215.0L272.2 224.2L282.8 223.8L284.5 225.0L293.4 229.2L300.8 235.0L294.4 245.0L293.4 246.7L288.1 245.0L284.1 235.0L282.8 230.0L272.2 230.0L261.6 230.0L256.3 235.0L251.1 240.0L240.5 240.0L240.5 235.0L237.8 232.5L237.8 225.0L240.5 220.0L251.1 223.8L260.3 215.0L253.7 205.0ZM259.0 205.0L261.6 210.0L263.0 205.0L261.6 202.5ZM286.7 235.0L293.4 243.3L298.6 235.0L293.4 230.8ZM325.1 196.7L325.1 200.0L319.8 200.0L316.3 196.7ZM399.1 225.0L393.8 230.0L393.8 225.0ZM272.2 240.0L277.5 245.0L272.2 250.0L266.9 245.0ZM335.6 251.2L340.9 255.0L338.3 262.5L335.6 265.0L325.1 275.0L323.3 273.3L323.3 265.0L323.8 263.8L325.1 265.0L330.4 260.0L335.6 260.0L337.4 255.0L335.6 253.8L334.3 253.8L331.7 251.2ZM282.8 262.5L284.5 263.3L282.8 265.0L288.1 270.0L282.8 270.0L277.5 265.0ZM303.9 293.3L312.7 293.3L314.5 295.0L314.5 300.0L309.2 305.0L314.5 306.7L314.5 310.0L306.6 315.0L303.9 317.5L296.0 317.5L293.4 315.0L293.4 310.0L298.6 305.0L298.6 295.0ZM409.7 290.0L409.7 295.0L409.7 300.0L407.0 302.5L401.7 297.5L404.4 295.0L401.7 292.5L407.0 287.5ZM335.6 340.0L346.2 342.5L348.9 345.0L348.9 352.5L346.2 355.0L335.6 345.0L333.0 347.5L330.4 345.0ZM346.2 355.0L356.8 365.0L362.1 370.0L362.1 375.0L367.4 380.0L367.4 385.0L356.8 375.0L346.2 365.0Z"/><path fill="#f5c4ac" d="M187.6 32.4L194.7 25.0L195.7 25.0L187.6 33.4L177.7 25.0L178.9 25.0ZM473.1 31.2L481.9 25.0L483.7 25.0L483.7 30.0L473.1 33.8L465.7 25.0L467.8 25.0ZM187.6 50.0L192.9 55.0L187.6 60.0L186.6 65.0L177.0 74.0L167.5 65.0L177.0 56.0L182.3 55.0ZM169.6 65.0L177.0 72.0L184.4 65.0L177.0 58.0ZM145.3 60.0L150.6 65.0L148.0 75.0L145.3 80.0L140.0 75.0L142.7 65.0ZM124.2 72.5L129.5 75.0L125.9 76.7L124.2 75.0L121.5 72.5ZM177.0 77.5L185.0 85.0L182.3 95.0L177.0 100.0L171.8 95.0L171.8 85.0ZM175.3 85.0L177.0 90.0L179.7 85.0L177.0 82.5ZM293.4 90.0L298.6 95.0L293.4 100.0L290.7 95.0ZM409.7 90.0L411.4 95.0L409.7 100.0L407.0 95.0ZM356.8 100.0L364.7 105.0L356.8 112.5L348.9 105.0ZM354.2 105.0L356.8 107.5L359.4 105.0L356.8 103.3ZM150.6 115.0L150.6 120.0L145.3 115.0L145.3 110.0ZM303.9 110.0L306.6 115.0L303.9 117.5L298.6 115.0ZM325.1 110.0L330.4 115.0L325.1 116.2L322.4 115.0ZM399.1 106.7L407.9 115.0L399.1 120.0L393.8 115.0ZM395.9 115.0L399.1 118.0L404.4 115.0L399.1 110.0ZM430.8 110.0L436.1 115.0L441.4 116.7L450.2 125.0L441.4 129.2L430.8 127.5L429.1 125.0L429.1 115.0ZM433.5 125.0L441.4 127.5L446.7 125.0L441.4 120.0ZM467.8 110.0L473.1 115.0L467.8 120.0L467.8 115.0ZM198.2 122.5L203.5 125.0L198.2 127.5L192.9 125.0ZM356.8 120.0L358.6 125.0L356.8 130.0L355.7 125.0ZM251.1 130.0L256.3 135.0L251.1 140.0L245.8 135.0ZM293.4 130.0L296.0 132.5L293.4 135.0L295.1 136.7L293.4 136.7L292.0 135.0ZM367.4 133.3L369.1 135.0L367.4 140.0L362.1 135.0ZM240.5 140.0L245.8 145.0L245.8 155.0L240.5 156.2L229.9 157.5L224.6 155.0L229.9 150.0L235.2 145.0ZM377.9 143.3L380.6 145.0L386.8 155.0L384.6 161.2L381.9 158.8L383.2 155.0L377.9 147.5L367.4 152.5L362.1 155.0L367.4 160.0L370.0 162.5L367.4 165.0L356.8 165.0L354.2 167.5L346.2 167.5L343.6 167.5L346.2 165.0L346.2 155.0L343.6 152.5L346.2 150.0L356.8 150.0L367.4 147.5L372.7 145.0ZM430.8 142.5L441.4 143.8L441.4 145.0L441.4 155.0L441.4 165.0L441.4 166.2L440.1 165.0L439.6 155.0L430.8 146.7L425.5 145.0ZM293.4 163.3L298.6 165.0L296.0 167.5L293.4 165.0L291.6 166.7L290.7 165.0ZM219.3 170.0L224.6 175.0L219.3 180.0L214.0 175.0ZM261.6 183.3L266.9 185.0L261.6 187.5L256.3 185.0ZM290.7 192.5L293.4 195.0L295.1 193.3L295.1 195.0L295.1 203.3L293.4 205.0L292.0 203.8L292.0 195.0ZM312.7 193.3L314.5 195.0L312.7 195.0ZM261.6 202.5L263.0 205.0L261.6 210.0L259.0 205.0ZM325.1 195.0L325.1 196.7L316.3 196.7L314.5 195.0ZM399.1 195.0L409.7 205.0L399.1 205.0ZM293.4 230.8L298.6 235.0L293.4 243.3L286.7 235.0ZM289.4 235.0L293.4 240.0L296.5 235.0L293.4 232.5ZM335.6 253.8L337.4 255.0L335.6 260.0L330.4 260.0L335.6 255.0L334.3 253.8ZM404.4 295.0L401.7 297.5L399.1 295.0L401.7 292.5ZM314.5 300.0L314.5 305.0L314.5 306.7L309.2 305.0ZM362.1 370.0L367.4 375.0L367.4 380.0L362.1 375.0Z"/><path fill="#f7a98b" d="M187.6 31.3L193.7 25.0L194.7 25.0L187.6 32.4L178.9 25.0L180.1 25.0ZM473.1 28.8L478.4 25.0L481.9 25.0L473.1 31.2L467.8 25.0L469.9 25.0ZM177.0 58.0L184.4 65.0L177.0 72.0L169.6 65.0ZM171.8 65.0L177.0 70.0L182.3 65.0L177.0 60.0ZM177.0 82.5L179.7 85.0L177.0 90.0L175.3 85.0ZM356.8 103.3L359.4 105.0L356.8 107.5L354.2 105.0ZM399.1 110.0L404.4 115.0L399.1 118.0L395.9 115.0ZM398.0 115.0L399.1 116.0L400.9 115.0L399.1 113.3ZM441.4 120.0L446.7 125.0L441.4 127.5L433.5 125.0ZM438.7 125.0L441.4 125.8L443.2 125.0L441.4 123.3ZM367.4 152.5L377.9 147.5L383.2 155.0L381.9 158.8L379.3 156.2L379.7 155.0L377.9 152.5L372.7 155.0L375.3 157.5L370.0 162.5L367.4 160.0L362.1 155.0ZM293.4 232.5L296.5 235.0L293.4 240.0L289.4 235.0ZM292.0 235.0L293.4 236.7L294.4 235.0L293.4 234.2Z"/><path fill="#ef886b" d="M187.6 30.3L192.6 25.0L193.7 25.0L187.6 31.3L180.1 25.0L181.4 25.0ZM473.1 26.2L474.9 25.0L478.4 25.0L473.1 28.8L469.9 25.0L472.1 25.0ZM177.0 60.0L182.3 65.0L177.0 70.0L171.8 65.0ZM173.9 65.0L177.0 68.0L180.2 65.0L177.0 62.0ZM399.1 113.3L400.9 115.0L399.1 116.0L398.0 115.0ZM441.4 123.3L443.2 125.0L441.4 125.8L438.7 125.0ZM377.9 152.5L379.7 155.0L379.3 156.2L377.9 155.0L375.3 157.5L372.7 155.0ZM293.4 234.2L294.4 235.0L293.4 236.7L292.0 235.0Z"/><path fill="#dd5f4b" d="M187.6 29.2L191.6 25.0L192.6 25.0L187.6 30.3L181.4 25.0L182.6 25.0ZM473.1 25.0L474.9 25.0L473.1 26.2L472.1 25.0ZM177.0 62.0L180.2 65.0L177.0 68.0L173.9 65.0ZM176.0 65.0L177.0 66.0L178.1 65.0L177.0 64.0Z"/><path fill="#c32e31" d="M187.6 28.2L190.6 25.0L191.6 25.0L187.6 29.2L182.6 25.0L183.9 25.0ZM177.0 64.0L178.1 65.0L177.0 66.0L176.0 65.0Z"/><path fill="#b40426" d="M187.6 27.1L189.6 25.0L190.6 25.0L187.6 28.2L183.9 25.0L185.1 25.0Z"/><path fill="#b40426" d="M187.6 26.1L188.6 25.0L189.6 25.0L187.6 27.1L185.1 25.0L186.4 25.0Z"/><path fill="#b40426" d="M187.6 25.0L188.6 25.0L187.6 26.1L186.4 25.0Z"/></g>
<g stroke="#b3c6f3" stroke-width="0.9" opacity="0.8"><path d="M505.0 55.0L505.0 75.0"/><path d="M494.0 105.0L505.0 105.0"/><path d="M325.3 274.0L325.3 286.0"/><path d="M367.5 386.0L367.5 408.0"/><path d="M388.6 416.5L388.6 425.0"/><path d="M430.9 195.5L430.9 206.0"/><path d="M378.2 306.0L378.2 316.0"/></g>
<rect x="580" y="281.41" width="20" height="143.99" fill="#3b4cc0"/><rect x="580" y="271.15" width="20" height="10.66" fill="#465ecf"/><rect x="580" y="260.90" width="20" height="10.66" fill="#6282ea"/><rect x="580" y="250.64" width="20" height="10.66" fill="#7ea1fa"/><rect x="580" y="240.38" width="20" height="10.66" fill="#9bbcff"/><rect x="580" y="230.13" width="20" height="10.66" fill="#b9d0f9"/><rect x="580" y="219.87" width="20" height="10.66" fill="#d2dbe8"/><rect x="580" y="209.62" width="20" height="10.66" fill="#e7d7ce"/><rect x="580" y="199.36" width="20" height="10.66" fill="#f5c4ac"/><rect x="580" y="189.10" width="20" height="10.66" fill="#f7a98b"/><rect x="580" y="178.85" width="20" height="10.66" fill="#ef886b"/><rect x="580" y="168.59" width="20" height="10.66" fill="#dd5f4b"/><rect x="580" y="158.33" width="20" height="10.66" fill="#c32e31"/><rect x="580" y="25.00" width="20" height="133.73" fill="#b40426"/><path d="M580 148.08H600M580 137.82H600M580 127.56H600M580 117.31H600M580 107.05H600M580 96.79H600M580 86.54H600M580 76.28H600M580 66.03H600M580 55.77H600M580 45.51H600M580 35.26H600" stroke="#fff" stroke-opacity="0.09" stroke-width="1"/>
<g stroke="#000" stroke-width="1.70" fill="none">
<rect x="85" y="25" width="466" height="400"/>
<rect x="580" y="25" width="20" height="400"/>
<path d="M78.5 25.00H85M78.5 69.44H85M78.5 113.89H85M78.5 158.33H85M78.5 202.78H85M78.5 247.22H85M78.5 291.67H85M78.5 336.11H85M78.5 380.56H85M78.5 425.00H85M85.00 425V431.5M151.57 425V431.5M218.14 425V431.5M284.71 425V431.5M351.29 425V431.5M417.86 425V431.5M484.43 425V431.5M551.00 425V431.5M600 425.00H606.5M600 383.97H606.5M600 342.95H606.5M600 301.92H606.5M600 260.90H606.5M600 219.87H606.5M600 178.85H606.5M600 137.82H606.5M600 96.79H606.5M600 55.77H606.5"/>
</g>
<g font-family="Liberation Sans, sans-serif"><text x="35.80" y="32.20" font-size="19.40" fill="#000" textLength="39.65" lengthAdjust="spacingAndGlyphs">−10</text><text x="35.80" y="76.64" font-size="19.40" fill="#000" textLength="39.65" lengthAdjust="spacingAndGlyphs">−20</text><text x="35.80" y="121.09" font-size="19.40" fill="#000" textLength="39.65" lengthAdjust="spacingAndGlyphs">−30</text><text x="35.80" y="165.53" font-size="19.40" fill="#000" textLength="39.65" lengthAdjust="spacingAndGlyphs">−40</text><text x="35.80" y="209.98" font-size="19.40" fill="#000" textLength="39.65" lengthAdjust="spacingAndGlyphs">−50</text><text x="35.80" y="254.42" font-size="19.40" fill="#000" textLength="39.65" lengthAdjust="spacingAndGlyphs">−60</text><text x="35.80" y="298.87" font-size="19.40" fill="#000" textLength="39.65" lengthAdjust="spacingAndGlyphs">−70</text><text x="35.80" y="343.31" font-size="19.40" fill="#000" textLength="39.65" lengthAdjust="spacingAndGlyphs">−80</text><text x="35.80" y="387.76" font-size="19.40" fill="#000" textLength="39.65" lengthAdjust="spacingAndGlyphs">−90</text><text x="23.61" y="432.20" font-size="19.40" fill="#000" textLength="51.86" lengthAdjust="spacingAndGlyphs">−100</text><text x="72.61" y="449.10" font-size="19.40" fill="#000" textLength="24.58" lengthAdjust="spacingAndGlyphs">20</text><text x="139.77" y="449.10" font-size="19.40" fill="#000" textLength="23.98" lengthAdjust="spacingAndGlyphs">40</text><text x="205.75" y="449.10" font-size="19.40" fill="#000" textLength="24.58" lengthAdjust="spacingAndGlyphs">60</text><text x="272.47" y="449.10" font-size="19.40" fill="#000" textLength="24.43" lengthAdjust="spacingAndGlyphs">80</text><text x="332.70" y="449.10" font-size="19.40" fill="#000" textLength="36.32" lengthAdjust="spacingAndGlyphs">100</text><text x="399.27" y="449.10" font-size="19.40" fill="#000" textLength="36.32" lengthAdjust="spacingAndGlyphs">120</text><text x="465.85" y="449.10" font-size="19.40" fill="#000" textLength="36.32" lengthAdjust="spacingAndGlyphs">140</text><text x="532.42" y="449.10" font-size="19.40" fill="#000" textLength="36.32" lengthAdjust="spacingAndGlyphs">160</text><text x="609.31" y="431.90" font-size="19.40" fill="#000" textLength="51.86" lengthAdjust="spacingAndGlyphs">−100</text><text x="609.30" y="390.87" font-size="19.40" fill="#000" textLength="39.65" lengthAdjust="spacingAndGlyphs">−80</text><text x="609.30" y="349.85" font-size="19.40" fill="#000" textLength="39.65" lengthAdjust="spacingAndGlyphs">−60</text><text x="609.30" y="308.82" font-size="19.40" fill="#000" textLength="39.65" lengthAdjust="spacingAndGlyphs">−40</text><text x="609.30" y="267.80" font-size="19.40" fill="#000" textLength="39.65" lengthAdjust="spacingAndGlyphs">−20</text><text x="608.95" y="226.77" font-size="19.40" fill="#000" textLength="11.55" lengthAdjust="spacingAndGlyphs">0</text><text x="608.62" y="185.75" font-size="19.40" fill="#000" textLength="24.36" lengthAdjust="spacingAndGlyphs">20</text><text x="609.20" y="144.72" font-size="19.40" fill="#000" textLength="23.76" lengthAdjust="spacingAndGlyphs">40</text><text x="608.62" y="103.69" font-size="19.40" fill="#000" textLength="24.36" lengthAdjust="spacingAndGlyphs">60</text><text x="608.77" y="62.67" font-size="19.40" fill="#000" textLength="24.21" lengthAdjust="spacingAndGlyphs">80</text><text x="208.83" y="471.90" font-size="22.20" fill="#000" textLength="217.42" lengthAdjust="spacingAndGlyphs">Starting Speed (kph)</text><text x="0" y="0" font-size="22.20" fill="#000" textLength="239.79" lengthAdjust="spacingAndGlyphs" transform="translate(16.00 344.78) rotate(-90)">Change in Speed (kph)</text><text x="0" y="0" font-size="22.20" fill="#000" textLength="216.29" lengthAdjust="spacingAndGlyphs" transform="translate(680.50 332.86) rotate(-90)">Regen Efficiency (%)</text><text x="573.00" y="13.60" font-size="18.00" fill="#ff0000" textLength="94.51" lengthAdjust="spacingAndGlyphs">ACC better</text><text x="573.40" y="458.80" font-size="18.00" fill="#0000ff" textLength="93.50" lengthAdjust="spacingAndGlyphs">ACC worse</text></g>
</svg>
</body></html>
